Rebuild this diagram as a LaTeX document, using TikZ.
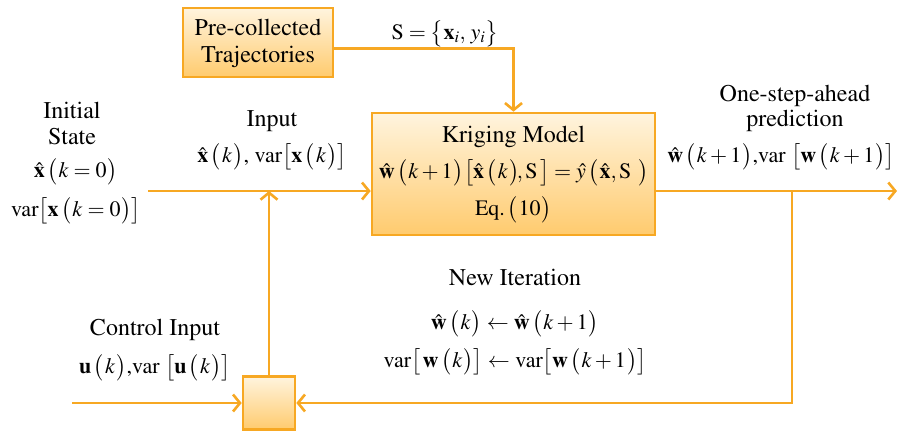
\documentclass[tikz,border=0pt]{standalone}
\usepackage[T1]{fontenc}
\usepackage{mathptmx}
\usetikzlibrary{arrows.meta}
\definecolor{orng}{HTML}{F7A823}
\definecolor{orngL}{HTML}{FFF4DE}
\definecolor{orngD}{HTML}{FFCB6E}
\tikzset{
  box/.style={draw=orng, line width=2.6pt, top color=orngL, bottom color=orngD, inner sep=0pt},
  flow/.style={draw=orng, line width=2.6pt},
  arr/.style={-{Straight Barb[length=7pt,width=17pt,line width=2.6pt]}},
  lbl/.style={font=\fontsize{24}{27}\selectfont, align=center, inner sep=0pt},
  mlbl/.style={font=\fontsize{22}{26}\selectfont, align=center, inner sep=0pt}
}
\newcommand{\bx}{\hat{\mathbf{x}}}
\newcommand{\bw}{\hat{\mathbf{w}}}
\newcommand{\lp}{\mkern2mu\bigl(\mkern1mu}
\newcommand{\rp}{\mkern1mu\bigr)}
\newcommand{\lb}{\bigl[}
\newcommand{\rb}{\bigr]}
\begin{document}
\begin{tikzpicture}[x=1pt,y=-1pt]
\useasboundingbox (0,0) rectangle (897,431);
% boxes
\node[box, minimum width=150pt, minimum height=69pt] (pre) at (258,42.5) {};
\node[lbl] (pretxt) at (258,43) {Pre-collected\\Trajectories};
\node[box, minimum width=283pt, minimum height=122pt] (krig) at (513.5,174) {};
\node[box, minimum width=52pt, minimum height=53pt] (sum) at (269,403) {};
% coordinates
\coordinate (in0) at (148,191);
\coordinate (ctl0) at (72,403);
\coordinate (out) at (897,191);
\coordinate (br) at (792,191);
% connectors
\draw[flow,arr] ([yshift=-6pt]pre.east) -| (krig.north);
\draw[flow,arr] (in0) -- (in0 -| krig.west);
\draw[flow,arr] (sum.north) -- (sum.north |- in0);
\draw[flow,arr] (krig.east |- in0) -- (out);
\draw[flow,arr] (br) |- (sum.east);
\draw[flow,arr] (ctl0) -- (sum.west);
% labels
\node[mlbl] (slbl) at (445,34) {$\mathrm{S}=\bigl\{\mathbf{x}_i,\,y_i\bigr\}$};
\node[lbl] (k1) at (513.5,137) {Kriging Model};
\node[mlbl] (k2) at (513.5,173) {$\bw\lp k+1\rp\lb\bx\lp k\rp\!,\mathrm{S}\,\rb=\hat{y}\lp\bx,\mathrm{S}\ \rp$};
\node[mlbl] (k3) at (513.5,210) {Eq.$\lp 10\rp$};
\node[lbl] (i1) at (72,110) {Initial};
\node[lbl] (i2) at (72,136) {State};
\node[mlbl] (i3) at (76,172) {$\bx\lp k=0\rp$};
\node[mlbl] (i4) at (76,211) {var$\lb\mathbf{x}\lp k=0\rp\rb$};
\node[lbl] (p1) at (272,121) {Input};
\node[mlbl] (p2) at (272,157) {$\bx\lp k\rp$, var$\lb\mathbf{x}\lp k\rp\rb$};
\node[lbl] (o1) at (795,96) {One-step-ahead};
\node[lbl] (o2) at (795,121) {prediction};
\node[mlbl] (o3) at (781,157) {$\bw\lp k+1\rp$,var $\lb\mathbf{w}\lp k+1\rp\rb$};
\node[lbl] (c1) at (155,330) {Control Input};
\node[mlbl] (c2) at (155,368) {$\mathbf{u}\lp k\rp$,var $\lb\mathbf{u}\lp k\rp\rb$};
\node[lbl] (n1) at (515,277) {New Iteration};
\node[mlbl] (n2) at (515,324) {$\bw\lp k\rp\leftarrow\bw\lp k+1\rp$};
\node[mlbl] (n3) at (515,362) {var$\lb\,\mathbf{w}\lp k\rp\rb\leftarrow$ var$\lb\mathbf{w}\lp k+1\rp\rb$};
\end{tikzpicture}
\end{document}
